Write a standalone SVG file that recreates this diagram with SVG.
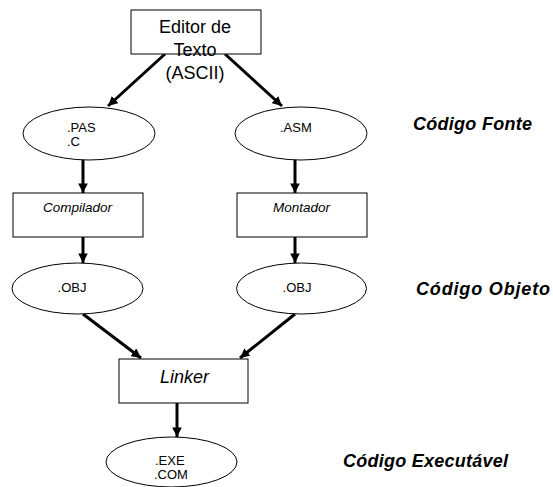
<svg xmlns="http://www.w3.org/2000/svg" width="553" height="487" viewBox="0 0 553 487">
<defs>
<marker id="ah" viewBox="0 0 10 10" refX="10" refY="5" markerWidth="3.2" markerHeight="3.2" orient="auto" markerUnits="strokeWidth">
<path d="M0,0 L10,5 L0,10 z" fill="#000"/>
</marker>
<style>
.n{fill:#fff;stroke:#000;stroke-width:1}
.t{font-family:"Liberation Sans",Arial,sans-serif;fill:#000}
.s{font-size:13px}
.m{font-size:13.5px;font-style:italic}
.b{font-size:18px}
.lab{font-family:"Liberation Sans",Arial,sans-serif;font-size:18px;font-weight:bold;font-style:italic;fill:#000}
.c{stroke:#000;stroke-width:3;fill:none;marker-end:url(#ah)}
</style>
</defs>
<rect width="553" height="487" fill="#fff"/>
<g id="connectors">
<line class="c" x1="165" y1="54" x2="108" y2="106"/>
<line class="c" x1="225" y1="54" x2="282" y2="106"/>
<line class="c" x1="83" y1="160" x2="83" y2="193"/>
<line class="c" x1="295" y1="160" x2="295" y2="193"/>
<line class="c" x1="83" y1="237" x2="83" y2="263"/>
<line class="c" x1="295" y1="237" x2="295" y2="263"/>
<line class="c" x1="83" y1="314" x2="141" y2="358"/>
<line class="c" x1="295" y1="314" x2="240" y2="358"/>
<line class="c" x1="177" y1="403" x2="177" y2="437"/>
</g>
<g id="editor">
<rect class="n" x="131" y="10" width="130" height="44"/>
<text class="t b" x="195" y="33" text-anchor="middle">Editor de</text>
<text class="t b" x="195" y="56" text-anchor="middle">Texto</text>
<text class="t b" x="195" y="79" text-anchor="middle">(ASCII)</text>
</g>
<g id="pas">
<ellipse class="n" cx="89" cy="133.5" rx="66" ry="26.5"/>
<text class="t s" x="67" y="132">.PAS</text>
<text class="t s" x="67" y="146">.C</text>
</g>
<g id="asm">
<ellipse class="n" cx="301" cy="133.5" rx="66" ry="26.5"/>
<text class="t s" x="280" y="132">.ASM</text>
</g>
<g id="compilador">
<rect class="n" x="13" y="193" width="130" height="44"/>
<text class="t m" x="77.5" y="212" text-anchor="middle">Compilador</text>
</g>
<g id="montador">
<rect class="n" x="237" y="193" width="130" height="44"/>
<text class="t m" x="301.5" y="212" text-anchor="middle">Montador</text>
</g>
<g id="obj1">
<ellipse class="n" cx="77.5" cy="288.5" rx="65.5" ry="25.5"/>
<text class="t s" x="72" y="292" text-anchor="middle">.OBJ</text>
</g>
<g id="obj2">
<ellipse class="n" cx="301.5" cy="288.5" rx="65" ry="25.5"/>
<text class="t s" x="297" y="292" text-anchor="middle">.OBJ</text>
</g>
<g id="linker">
<rect class="n" x="119" y="359" width="129" height="44"/>
<text class="t b" x="184.5" y="383" font-style="italic" text-anchor="middle">Linker</text>
</g>
<g id="exe">
<ellipse class="n" cx="171.5" cy="462" rx="65.5" ry="25"/>
<text class="t s" x="155" y="465">.EXE</text>
<text class="t s" x="154" y="479">.COM</text>
</g>
<g id="labels">
<text class="lab" x="413" y="130" textLength="119">Código Fonte</text>
<text class="lab" x="416" y="295" textLength="134">Código Objeto</text>
<text class="lab" x="343" y="467" textLength="165">Código Executável</text>
</g>
</svg>
